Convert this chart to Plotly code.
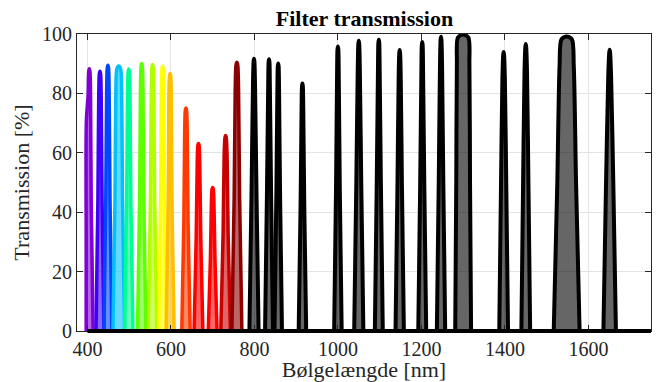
import plotly.graph_objects as go

# ---- data ----
centers = [404.5, 430, 449, 475, 499, 530, 556, 580, 598, 636, 666, 700, 731, 758,
           799, 835, 857, 915, 1000, 1050, 1098, 1148, 1202, 1247, 1300, 1397, 1450, 1548, 1651]
peaks = [88.3, 87.5, 89.5, 89.2, 88.2, 90.1, 89.7, 89.1, 86.7, 75.1, 63.1, 48.3, 65.8, 90.5,
         91.7, 91.5, 90.1, 83.3, 95.8, 97.7, 98.1, 94.6, 97.3, 99.1, 99.8, 93.9, 96.6, 99.2, 94.7]
# full widths (nm) of each filter at 0 %, 50 %, 90 % and 99 % of its peak
base_widths = [18, 19, 19, 28, 20, 20, 20, 19, 19, 20, 21, 21, 23, 24,
               22, 19, 18, 18, 18, 22, 19, 20, 19, 20, 38, 21, 21, 62, 30]
half_widths = [9, 10, 10, 18, 10, 10, 10, 9, 9, 10, 11, 11, 12, 13,
               12, 10, 9, 9, 9, 12, 10, 11, 10, 11, 33, 13, 13, 45, 18]
shoulder_widths = [6, 6, 6, 14, 6, 6, 6, 6, 6, 6, 6, 6, 7, 8,
                   5, 4, 4, 4, 4, 5, 4, 5, 4, 5, 30, 6, 6, 34, 7]
top_widths = [3, 3, 3, 9, 3, 3, 3, 3, 3, 3, 3, 3, 3, 4,
              2, 2, 2, 2, 2, 2, 2, 2, 2, 2, 25, 2, 2, 25, 2]
line_colors = ["#8000d4", "#3d00ff", "#0046ff", "#00c0ff", "#00ff92", "#5eff00", "#b3ff00",
               "#ffff00", "#ffbe00", "#ff3900", "#ff0000", "#ff0000", "#c80000", "#8c0000"] + ["#000000"] * 15
data_start_nm = 397      # measured spectrum starts here (first filter is truncated)
data_start_value = 31
x_ticks = [400, 600, 800, 1000, 1200, 1400, 1600]
y_ticks = [0, 20, 40, 60, 80, 100]


def hex_rgba(h, a):
    h = h.lstrip("#")
    return "rgba(%d,%d,%d,%.2f)" % (int(h[0:2], 16), int(h[2:4], 16), int(h[4:6], 16), a)


font_family = "Liberation Serif"
fig = go.Figure()

for i, c in enumerate(centers):
    p = peaks[i]
    bw, hw, sw, tw = base_widths[i], half_widths[i], shoulder_widths[i], top_widths[i]
    xs = [c - bw / 2, c - hw / 2, c - sw / 2, c - tw / 2, c,
          c + tw / 2, c + sw / 2, c + hw / 2, c + bw / 2]
    ys = [0, 0.5 * p, 0.9 * p, 0.99 * p, p, 0.99 * p, 0.9 * p, 0.5 * p, 0]
    if i == 0:
        # truncated at the start of the measured range: steep left flank
        xs = [data_start_nm, data_start_nm, data_start_nm + 0.4] + xs[2:]
        ys = [0, data_start_value, 0.8 * p] + ys[2:]
    col = line_colors[i]
    is_black = col == "#000000"
    fig.add_trace(go.Scatter(
        x=xs, y=ys, mode="lines",
        line=dict(color=col, width=4 if is_black else 3.5, shape="spline", smoothing=0.8),
        fill="tozeroy", fillcolor=hex_rgba(col, 0.6),
        hoverinfo="skip", showlegend=False,
    ))

x_min, x_max = 375, 1750
fig.add_shape(type="line", xref="paper", yref="paper",
              x0=(400 - x_min) / (x_max - x_min), x1=1, y0=0, y1=0,
              line=dict(color="black", width=4), layer="above")

axis_common = dict(
    showline=True, linecolor="#262626", linewidth=1, mirror="ticks",
    ticks="inside", ticklen=6, tickcolor="#262626", tickwidth=1,
    showgrid=True, gridcolor="#e3e3e3", gridwidth=1, zeroline=False,
    tickfont=dict(family=font_family, size=20, color="#262626"),
)

fig.update_layout(
    width=659, height=382,
    margin=dict(l=77, r=7, t=34, b=48),
    paper_bgcolor="white", plot_bgcolor="white",
    title=dict(text="<b>Filter transmission</b>", x=(77 + 652) / 2 / 659, xanchor="center",
               y=1 - 18 / 382, yanchor="middle",
               font=dict(family=font_family, size=22, color="black")),
    xaxis=dict(range=[x_min, x_max], tickvals=x_ticks,
               title=dict(text="Bølgelængde [nm]", standoff=0,
                          font=dict(family=font_family, size=22, color="#262626")),
               **axis_common),
    yaxis=dict(range=[0, 100], tickvals=y_ticks,
               title=dict(text="Transmission [%]", standoff=6,
                          font=dict(family=font_family, size=22, color="#262626")),
               **axis_common),
)

fig.write_html("out.html", config={"displayModeBar": False},
               post_script="document.body.style.margin='0';")
